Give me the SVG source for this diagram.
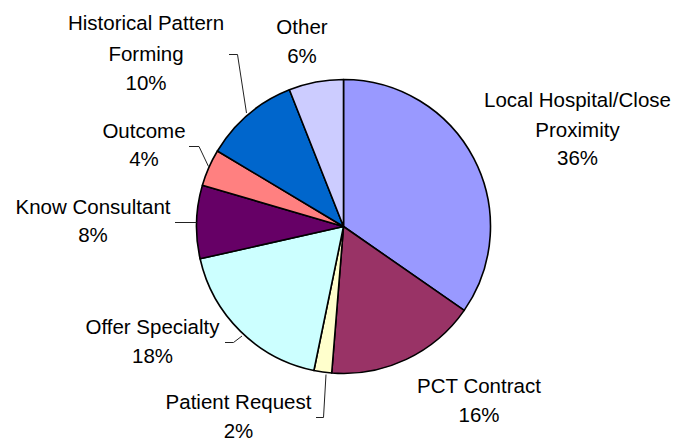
<svg xmlns="http://www.w3.org/2000/svg" width="677" height="440" viewBox="0 0 677 440">
<style>
.s{stroke:#000;stroke-width:1.6;stroke-linejoin:round}
.t{font-family:"Liberation Sans",Arial,sans-serif;font-size:20.5px;fill:#000;text-anchor:middle}
.l{fill:none;stroke:#222;stroke-width:1}
</style>
<rect width="677" height="440" fill="#fff"/>
<g id="slice-local"><path class="s" fill="#9999FF" d="M343.5,226.5 L343.5,79.5 A147,147 0 0 1 464.2,310.4 Z"/></g>
<g id="slice-pct"><path class="s" fill="#993366" d="M343.5,226.5 L464.2,310.4 A147,147 0 0 1 331.7,373 Z"/></g>
<g id="slice-patient"><path class="s" fill="#FFFFCC" d="M343.5,226.5 L331.7,373 A147,147 0 0 1 313.9,370.5 Z"/></g>
<g id="slice-offer"><path class="s" fill="#CCFFFF" d="M343.5,226.5 L313.9,370.5 A147,147 0 0 1 200.1,258.8 Z"/></g>
<g id="slice-know"><path class="s" fill="#660066" d="M343.5,226.5 L200.1,258.8 A147,147 0 0 1 202.4,185.2 Z"/></g>
<g id="slice-outcome"><path class="s" fill="#FF8080" d="M343.5,226.5 L202.4,185.2 A147,147 0 0 1 217.4,151 Z"/></g>
<g id="slice-historical"><path class="s" fill="#0066CC" d="M343.5,226.5 L217.4,151 A147,147 0 0 1 289.4,89.8 Z"/></g>
<g id="slice-other"><path class="s" fill="#CCCCFF" d="M343.5,226.5 L289.4,89.8 A147,147 0 0 1 343.5,79.5 Z"/></g>
<g id="connectors">
<polyline class="l" points="229,54.5 237.5,54.5 246.5,113"/>
<polyline class="l" points="189,146.5 199,146.5 208.5,166.5"/>
<polyline class="l" points="175,222.5 196.5,222.5"/>
<polyline class="l" points="225,342.5 233.5,342.5 242,336"/>
<polyline class="l" points="326,374.5 323.5,417.5 316,417.5"/>
</g>
<g id="label-local"><text class="t" x="577.5" y="107">Local Hospital/Close</text><text class="t" x="577.5" y="136.5">Proximity</text><text class="t" x="577.5" y="165">36%</text></g>
<g id="label-pct"><text class="t" x="479" y="393">PCT Contract</text><text class="t" x="479" y="422">16%</text></g>
<g id="label-patient"><text class="t" x="238.5" y="409">Patient Request</text><text class="t" x="238.5" y="437.5">2%</text></g>
<g id="label-offer"><text class="t" x="152.5" y="333.5">Offer Specialty</text><text class="t" x="152.5" y="363">18%</text></g>
<g id="label-know"><text class="t" x="93" y="213.5">Know Consultant</text><text class="t" x="93" y="242">8%</text></g>
<g id="label-outcome"><text class="t" x="144" y="137.5">Outcome</text><text class="t" x="144" y="166">4%</text></g>
<g id="label-historical"><text class="t" x="146" y="30">Historical Pattern</text><text class="t" x="146" y="60.5">Forming</text><text class="t" x="146" y="90">10%</text></g>
<g id="label-other"><text class="t" x="302" y="33.5">Other</text><text class="t" x="302" y="62.5">6%</text></g>
</svg>
